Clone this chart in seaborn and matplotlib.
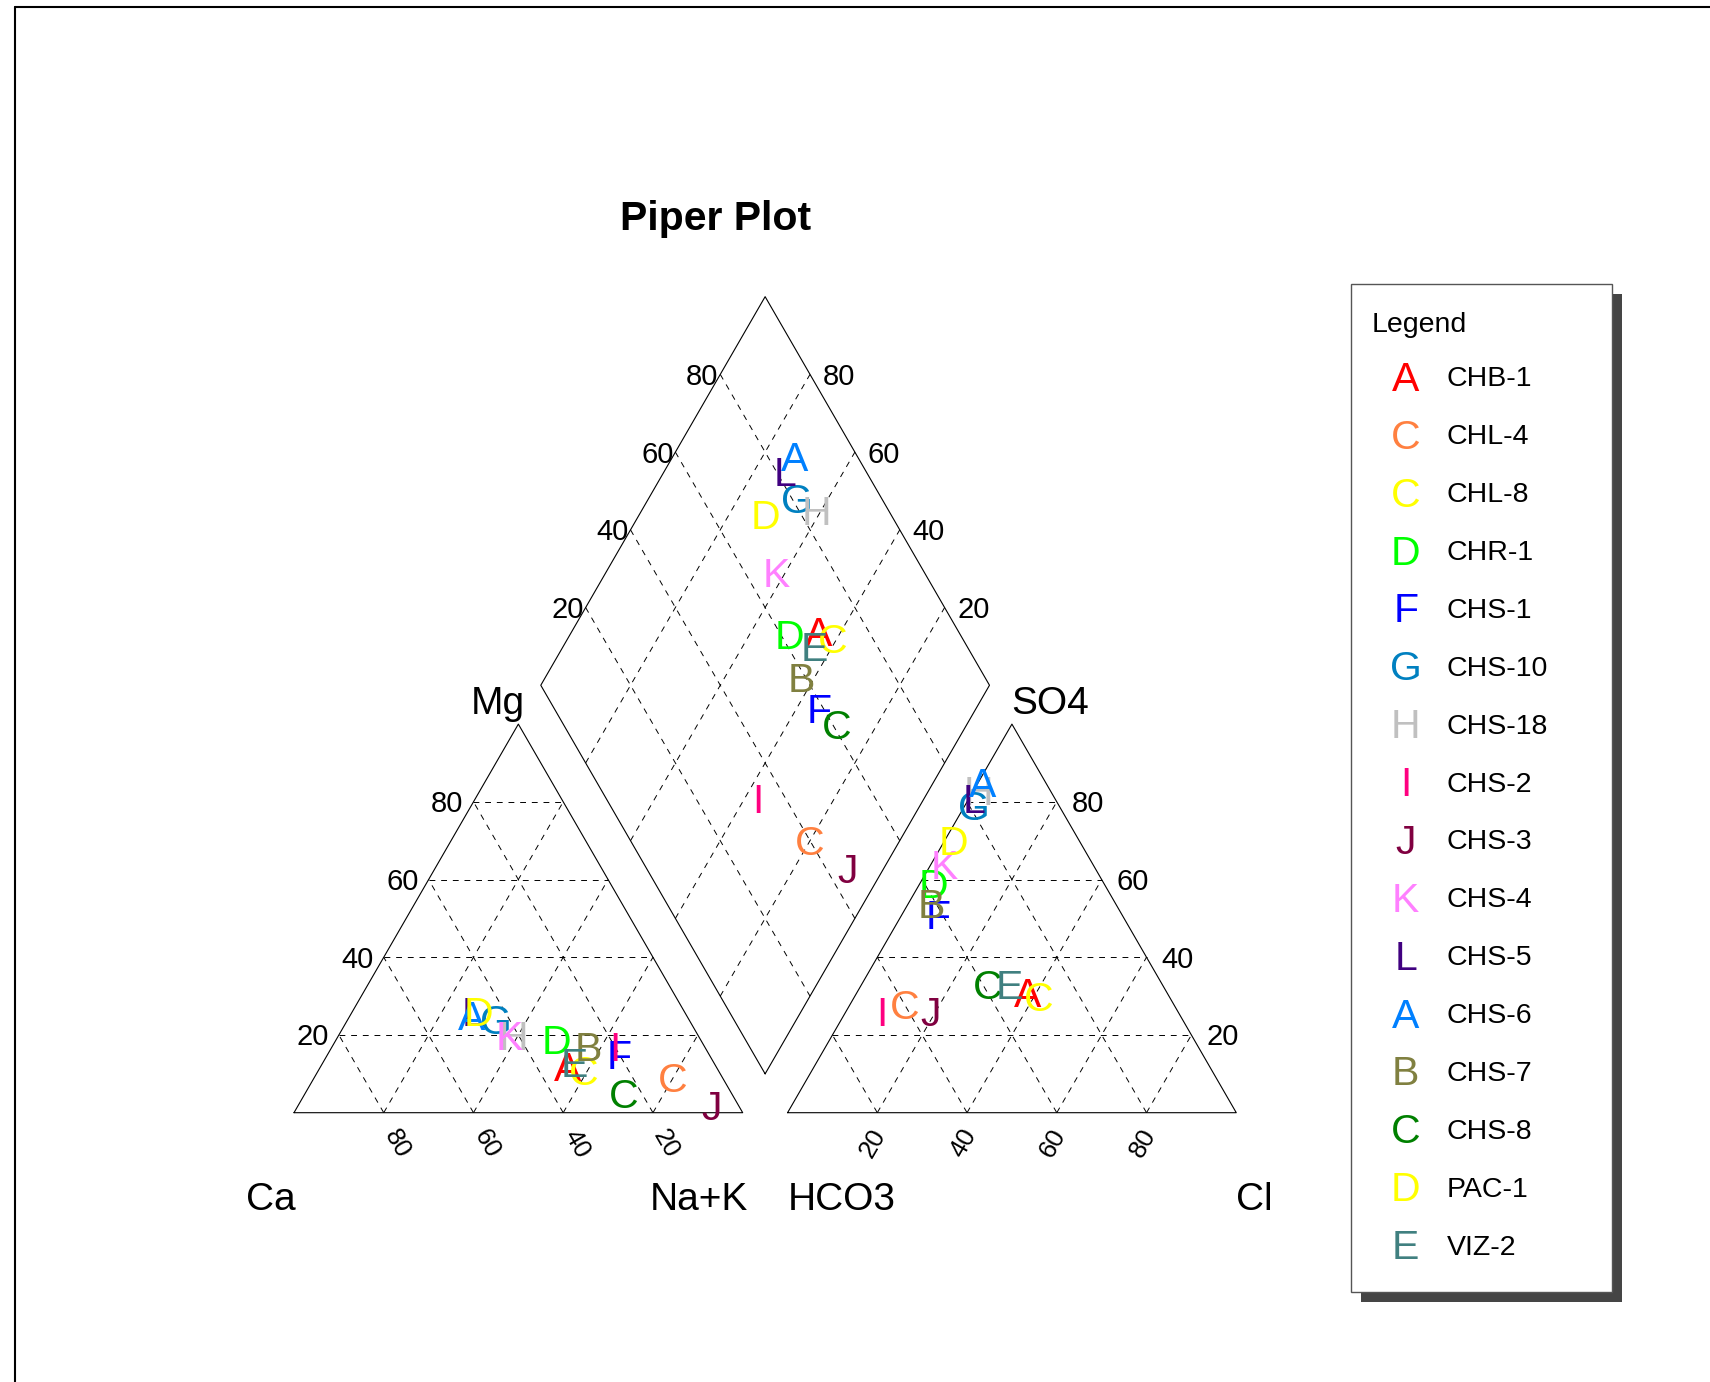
import numpy as np
import pandas as pd
import seaborn as sns
from matplotlib import pyplot as plt
from matplotlib.lines import Line2D
from matplotlib.patches import Rectangle

samples = ["CHB-1", "CHL-4", "CHL-8", "CHR-1", "CHS-1", "CHS-10", "CHS-18", "CHS-2",
           "CHS-3", "CHS-4", "CHS-5", "CHS-6", "CHS-7", "CHS-8", "PAC-1", "VIZ-2"]
letters = ["A", "C", "C", "D", "F", "G", "H", "I", "J", "K", "L", "A", "B", "C", "D", "E"]
colors = ["#FF0000", "#FF8040", "#FFFF00", "#00FF00", "#0000FF", "#0080C0", "#C0C0C0", "#FF0080",
          "#800040", "#FF80FF", "#400080", "#0080FF", "#808040", "#008000", "#FFFF00", "#408080"]

# cations (% of meq)
ca = [33, 11, 30, 32, 20, 43, 41, 20, 6, 42, 47, 48, 26, 24, 46, 31]
mg = [12, 9, 11, 19, 15, 24, 20, 17, 2, 20, 26, 25, 17, 5, 26, 13]
nak = [55, 80, 59, 49, 65, 33, 39, 63, 92, 38, 27, 27, 57, 71, 28, 56]
# anions (% of meq)
hco3 = [31, 60, 29, 38, 41, 19, 16, 66, 55, 33, 18, 14, 41, 39, 28, 34]
so4 = [31, 28, 30, 59, 51, 79, 83, 26, 26, 64, 81, 85, 54, 33, 70, 33]
cl = [38, 12, 41, 3, 8, 2, 1, 8, 19, 3, 1, 1, 5, 28, 2, 33]

grid_vals = [20, 40, 60, 80]

df = pd.DataFrame({"sample": samples, "letter": letters, "color": colors,
                   "Ca": ca, "Mg": mg, "NaK": nak, "HCO3": hco3, "SO4": so4, "Cl": cl})

H = np.sqrt(3) / 2
GAP = 0.1
PX = 0.72          # points per pixel at dpi 100
S = 448.7          # triangle side in pixels


def cation_xy(m, n):
    return n + 0.5 * m, H * m


def anion_xy(s, c):
    return 1 + GAP + c + 0.5 * s, H * s


def diamond_xy(n, an):
    return (1 + GAP + an + n) / 2, H * (1 + GAP + an - n)


sns.set_theme(style="white")
plt.rcParams["font.family"] = ["Liberation Sans", "DejaVu Sans"]
plt.rcParams["text.color"] = "black"

fig = plt.figure(figsize=(17.1, 13.82), dpi=100)
ax = fig.add_axes([0, 0, 1, 1])
ax.set_xlim(-294 / S, (1710 - 294) / S)
ax.set_ylim(-(1382 - 1112.7) / S, 1112.7 / S)
ax.axis("off")


def put(x, y, s, size, dx=0, dy=0, ha="center", rot=0, **kw):
    # dx, dy in pixels (dy downward); text cap-centred on the anchor
    if rot == 0:
        ax.annotate(s, (x, y), xytext=(dx * PX, -dy * PX - 0.358 * size),
                    textcoords="offset points", ha=ha, va="baseline", fontsize=size, **kw)
    else:
        ax.annotate(s, (x, y), xytext=(dx * PX, -dy * PX), textcoords="offset points",
                    ha="center", va="center", rotation=rot, fontsize=size, **kw)


solid = dict(color="black", lw=0.8)
dash = dict(color="black", lw=0.7, ls=(0, (6, 6)))

# outlines
ax.plot([0, 1, 0.5, 0], [0, 0, H, 0], **solid)
ax.plot([1.1, 2.1, 1.6, 1.1], [0, 0, H, 0], **solid)
dpts = [diamond_xy(1, 0), diamond_xy(0, 0), diamond_xy(0, 1), diamond_xy(1, 1), diamond_xy(1, 0)]
ax.plot([p[0] for p in dpts], [p[1] for p in dpts], **solid)

# grid
for v in grid_vals:
    p = v / 100
    ax.plot([0.5 * p, 1 - 0.5 * p], [p * H, p * H], **dash)
    ax.plot([p, (1 + p) / 2], [0, (1 - p) * H], **dash)
    ax.plot([1 - p, 0.5 * (1 - p)], [0, (1 - p) * H], **dash)
    ax.plot([1.1 + 0.5 * p, 2.1 - 0.5 * p], [p * H, p * H], **dash)
    ax.plot([1.1 + p, 1.1 + p + 0.5 * (1 - p)], [0, (1 - p) * H], **dash)
    ax.plot([2.1 - p, 1.1 + 0.5 * (1 - p)], [0, (1 - p) * H], **dash)
    a, b = diamond_xy(p, 0), diamond_xy(p, 1)
    ax.plot([a[0], b[0]], [a[1], b[1]], **dash)
    a, b = diamond_xy(0, p), diamond_xy(1, p)
    ax.plot([a[0], b[0]], [a[1], b[1]], **dash)

# tick labels
TK = 21
for v in grid_vals:
    p = v / 100
    put(1 - p, 0, str(v), 18.5, dx=13.5, dy=31, rot=-60)
    put(1.1 + p, 0, str(v), 18.5, dx=-4, dy=30, rot=60)
    put(0.5 * p, p * H, str(v), TK, dx=-10, ha="right")
    put(2.1 - 0.5 * p, p * H, str(v), TK, dx=15, ha="left")
    x, y = diamond_xy(0, p)
    put(x, y, str(v), TK, dx=-2, ha="right")
    x, y = diamond_xy(1 - p, 1)
    put(x, y, str(v), TK, dx=13, ha="left")

# axis names
AX = 28
put(0, 0, "Ca", AX, dx=-23, dy=83.3)
put(1, 0, "Na+K", AX, dx=-43.3, dy=83.3)
put(1.1, 0, "HCO3", AX, dx=54.1, dy=83.3)
put(2.1, 0, "Cl", AX, dx=17.7, dy=83.3)
put(0.5, H, "Mg", AX, dx=-20.9, dy=-24)
put(1.6, H, "SO4", AX, dx=38.5, dy=-24)

fig.text(716 / 1710, 1 - 230.4 / 1382, "Piper Plot", ha="center", va="baseline",
         fontsize=29.5, fontweight="bold")

# samples
PT = 29.5
for _, r in df.iterrows():
    n = r["NaK"] / 100
    m = r["Mg"] / 100
    s = r["SO4"] / 100
    c = r["Cl"] / 100
    for (x, y) in [cation_xy(m, n), anion_xy(s, c), diamond_xy(n, s + c)]:
        put(x, y, r["letter"], PT, color=r["color"])

# legend
lax = fig.add_axes([0, 0, 1, 1])
lax.set_xlim(0, 1710)
lax.set_ylim(1382, 0)
lax.axis("off")
lax.add_patch(Rectangle((1361, 294), 261, 1008, facecolor="#454545", edgecolor="none"))
lax.add_patch(Rectangle((1351, 284), 261, 1008, facecolor="white", edgecolor="#555555", lw=1))
LG = 20.5
lax.text(1372, 321.7 + 0.358 * LG / PX, "Legend", fontsize=LG, ha="left", va="baseline")
for i, (lt, col, nm) in enumerate(zip(letters, colors, samples)):
    yc = 376.2 + i * 57.88
    lax.text(1405.8, yc + 0.358 * PT / PX, lt, fontsize=PT, color=col, ha="center", va="baseline")
    lax.text(1446.5, yc + 0.358 * LG / PX, nm, fontsize=LG, ha="left", va="baseline")

# outer frame
fig.add_artist(Line2D([15 / 1710, 1.01], [1 - 6.5 / 1382] * 2, color="black", lw=1.5,
                      transform=fig.transFigure))
fig.add_artist(Line2D([15 / 1710] * 2, [-0.01, 1 - 6.5 / 1382], color="black", lw=1.5,
                      transform=fig.transFigure))

fig.savefig("out.png", dpi=100, facecolor="white")
